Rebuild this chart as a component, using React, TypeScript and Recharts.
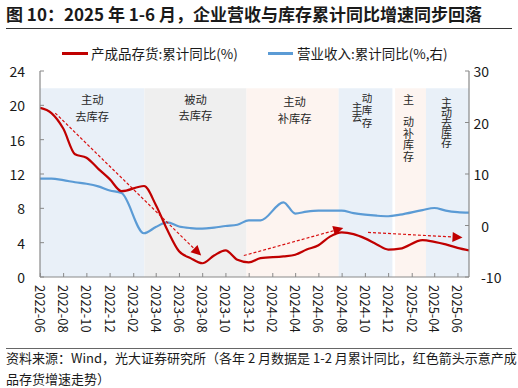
import React from "react";
import {
  LineChart,
  Line,
  XAxis,
  YAxis,
  ReferenceArea,
  ReferenceLine
} from "recharts";

// monthly cumulative YoY, January is folded into February (1-2 months)
const months = [
  "2022-05", "2022-06", "2022-07", "2022-08", "2022-09", "2022-10", "2022-11", "2022-12",
  "2023-02", "2023-03", "2023-04", "2023-05", "2023-06", "2023-07", "2023-08", "2023-09",
  "2023-10", "2023-11", "2023-12",
  "2024-02", "2024-03", "2024-04", "2024-05", "2024-06", "2024-07", "2024-08", "2024-09",
  "2024-10", "2024-11", "2024-12",
  "2025-02", "2025-03", "2025-04", "2025-05", "2025-06"
];

const inventoryYoY = [
  19.7, 19.1, 17.3, 14.3, 13.9, 12.6, 11.4, 10.0,
  10.6, 8.4, 5.5, 3.0, 2.2, 1.6, 2.5, 3.1,
  2.0, 1.7, 2.2,
  2.4, 2.6, 3.2, 3.7, 4.7, 5.2, 5.0, 4.5,
  3.8, 3.2, 3.3,
  4.3, 4.1, 3.8, 3.4, 3.1
];

const revenueYoY = [
  9.1, 9.1, 8.8, 8.4, 8.1, 7.6, 6.8, 6.3,
  -1.5, -0.3, 0.6, -0.2, -0.5, -0.6, -0.4, -0.1,
  0.15, 1.0, 1.0,
  4.5, 2.3, 2.7, 2.9, 2.9, 2.9, 2.4, 2.1,
  1.9, 1.8, 2.1,
  3.0, 3.4, 2.9, 2.6, 2.5
];

const tickMonths = [
  "2022-06", "2022-08", "2022-10", "2022-12", "2023-02", "2023-04", "2023-06",
  "2023-08", "2023-10", "2023-12", "2024-02", "2024-04", "2024-06", "2024-08",
  "2024-10", "2024-12", "2025-02", "2025-04", "2025-06"
];
const leftTicks = [0, 4, 8, 12, 16, 20, 24];
const rightTicks = [-10, 0, 10, 20, 30];

// inventory cycle phases (background bands)
const phaseFrom = ["2022-05-31", "2023-03-01", "2023-11-24", "2024-07-23", "2024-12-18", "2025-03-09"];
const phaseTo = ["2023-03-01", "2023-11-24", "2024-07-23", "2024-12-11", "2025-03-09", "2025-06-30"];
const phaseName = ["主动去库存", "被动去库存", "主动补库存", "主动去库存", "主动补库存", "主动去库存"];

// red trend arrows on the inventory axis
const arrowFrom: [string, number][] = [["2022-07-10", 19.1], ["2023-11-17", 2.5], ["2024-10-08", 5.2]];
const arrowTo: [string, number][] = [["2023-07-28", 2.5], ["2024-08-04", 5.7], ["2025-06-13", 4.6]];

const RED = "#C00000";
const BLUE = "#5B9BD5";
const FONT = '"Noto Sans CJK SC", "Noto Sans", sans-serif';

const bandFill: Record<string, string> = {
  主动去库存: "#E9F0F8",
  被动去库存: "#EFEFEF",
  主动补库存: "#FDF4F0"
};

// how the phase words sit in each band: offsets from band centre / top.
// rows = horizontal lines (dy per line), v = vertical column (dy is top of first glyph)
type Piece = { s: string[]; dx: number; dy: number[]; v?: boolean; ls?: number; size: number };
const phaseLayout: Piece[][] = [
  [{ s: ["主动", "去库存"], dx: 0, dy: [11, 27.5], size: 11.3 }],
  [{ s: ["被动", "去库存"], dx: 0, dy: [10.5, 27], size: 11.3 }],
  [{ s: ["主动", "补库存"], dx: 2, dy: [13, 29.5], size: 11.3 }],
  [
    { s: ["主去"], dx: -8.5, dy: [13.5], v: true, ls: -0.5, size: 10.5 },
    { s: ["动库存"], dx: 1.5, dy: [4.5], v: true, ls: 2, size: 10.5 }
  ],
  [
    { s: ["主"], dx: -2, dy: [6.5], v: true, size: 11 },
    { s: ["动补库存"], dx: -2, dy: [28.5], v: true, ls: 0.5, size: 11 }
  ],
  [{ s: ["主动去库存"], dx: -1, dy: [9], v: true, ls: -1, size: 11 }]
];

const monthEnd = (m: string) => {
  const [y, mo] = m.split("-").map(Number);
  return Date.UTC(y, mo, 0);
};
const monthStart = (m: string) => {
  const [y, mo] = m.split("-").map(Number);
  return Date.UTC(y, mo - 1, 1);
};
const day = (d: string) => Date.parse(d);

const data = months.map((m, i) => ({
  t: monthEnd(m),
  inventory: inventoryYoY[i],
  revenue: revenueYoY[i]
}));
const tickTimes = tickMonths.map(monthStart);
const xDomain = [day("2022-05-31"), day("2025-06-30")];

const MonthTick = ({ x, y, payload }: any) => {
  const i = tickTimes.indexOf(payload.value);
  return (
    <text
      x={x}
      y={y}
      transform={`rotate(90 ${x} ${y})`}
      textAnchor="start"
      dominantBaseline="central"
      fontSize={13}
      fill="#1a1a1a"
      fontFamily={FONT}
    >
      {tickMonths[i]}
    </text>
  );
};

const LeftTick = ({ x, y, payload }: any) => (
  <text x={x} y={y} textAnchor="end" dominantBaseline="central" fontSize={14} fill="#1a1a1a" fontFamily={FONT}>
    {payload.value}
  </text>
);

const RightTick = ({ x, y, payload }: any) => {
  const neg = payload.value < 0;
  return (
    <text
      x={neg ? x + 12 : x + 20}
      y={y}
      textAnchor={neg ? "start" : "end"}
      dominantBaseline="central"
      fontSize={14}
      fill="#1a1a1a"
      fontFamily={FONT}
    >
      {payload.value}
    </text>
  );
};

const DashedArrow = (p: any) => {
  const { x1, y1, x2, y2 } = p;
  const dx = x2 - x1;
  const dy = y2 - y1;
  const len = Math.hypot(dx, dy) || 1;
  const ux = dx / len;
  const uy = dy / len;
  const head = 10;
  const half = 5;
  const bx = x2 - ux * head;
  const by = y2 - uy * head;
  return (
    <g>
      <line x1={x1} y1={y1} x2={bx} y2={by} stroke="#D81010" strokeWidth={1.2} strokeDasharray="3 2" />
      <polygon
        points={`${x2},${y2} ${bx - uy * half},${by + ux * half} ${bx + uy * half},${by - ux * half}`}
        fill={RED}
      />
    </g>
  );
};

const PhaseText = ({ vb, idx }: { vb: any; idx: number }) => {
  const cx = vb.x + vb.width / 2;
  return (
    <g>
      {phaseLayout[idx].map((c, k) =>
        c.v ? (
          <text
            key={k}
            x={cx + c.dx}
            y={vb.y + c.dy[0]}
            textAnchor="start"
            fontSize={c.size}
            fill="#262626"
            fontFamily={FONT}
            style={{ writingMode: "vertical-rl", letterSpacing: c.ls || 0 }}
          >
            {c.s[0]}
          </text>
        ) : (
          <text
            key={k}
            textAnchor="middle"
            dominantBaseline="central"
            fontSize={c.size}
            fill="#262626"
            fontFamily={FONT}
          >
            {c.s.map((line, j) => (
              <tspan key={j} x={cx + c.dx} y={vb.y + c.dy[j]}>
                {line}
              </tspan>
            ))}
          </text>
        )
      )}
    </g>
  );
};

export default function App() {
  return (
    <div
      style={{
        position: "absolute",
        left: 0,
        top: 0,
        width: 518,
        height: 388,
        background: "#fff",
        fontFamily: FONT,
        color: "#1a1a1a"
      }}
    >
      <div style={{ position: "absolute", left: 0, top: 0 }}>
        <LineChart width={518} height={346} data={data} margin={{ top: 71, right: 0, bottom: 0, left: 0 }}>
          {phaseName.map((name, i) => (
            <ReferenceArea
              key={i}
              yAxisId="left"
              x1={day(phaseFrom[i])}
              x2={day(phaseTo[i])}
              y1={0}
              y2={22}
              fill={bandFill[name]}
              fillOpacity={1}
              stroke="none"
              ifOverflow="extendDomain"
              label={(lp: any) => <PhaseText vb={lp.viewBox || lp} idx={i} />}
            />
          ))}
          <XAxis
            dataKey="t"
            type="number"
            domain={xDomain}
            ticks={tickTimes}
            allowDataOverflow
            height={69}
            interval={0}
            tickSize={-4}
            tickMargin={12}
            tick={<MonthTick />}
            tickLine={{ stroke: "#898989" }}
            axisLine={{ stroke: "#898989", strokeWidth: 1.2 }}
          />
          <YAxis
            yAxisId="left"
            domain={[0, 24]}
            ticks={leftTicks}
            width={40}
            tickSize={-4}
            tickMargin={19}
            tick={<LeftTick />}
            tickLine={{ stroke: "#898989" }}
            axisLine={{ stroke: "#898989", strokeWidth: 1.2 }}
          />
          <YAxis
            yAxisId="right"
            orientation="right"
            domain={[-10, 30]}
            ticks={rightTicks}
            width={49}
            tickSize={-4}
            tickMargin={4}
            tick={<RightTick />}
            tickLine={{ stroke: "#898989" }}
            axisLine={{ stroke: "#898989", strokeWidth: 1.2 }}
          />
          <Line
            yAxisId="right"
            dataKey="revenue"
            type="monotone"
            stroke={BLUE}
            strokeWidth={2.2}
            dot={false}
            isAnimationActive={false}
          />
          <Line
            yAxisId="left"
            dataKey="inventory"
            type="monotone"
            stroke={RED}
            strokeWidth={2.2}
            dot={false}
            isAnimationActive={false}
          />
          {arrowFrom.map((a, i) => (
            <ReferenceLine
              key={i}
              yAxisId="left"
              segment={[
                { x: day(a[0]), y: a[1] },
                { x: day(arrowTo[i][0]), y: arrowTo[i][1] }
              ]}
              shape={(p: any) => <DashedArrow {...p} />}
            />
          ))}
        </LineChart>
      </div>

      <div
        style={{
          position: "absolute",
          left: 6,
          top: 2,
          fontSize: 17,
          fontWeight: 700,
          lineHeight: "24px",
          whiteSpace: "nowrap"
        }}
      >
        图 10：2025 年 1-6 月，企业营收与库存累计同比增速同步回落
      </div>
      <div style={{ position: "absolute", left: 6, top: 28, width: 506, height: 1, background: "#333" }} />

      <div style={{ position: "absolute", left: 62, top: 52, width: 26, height: 2.5, background: RED }} />
      <div style={{ position: "absolute", left: 91, top: 44, fontSize: 13.5, lineHeight: "18px", whiteSpace: "nowrap" }}>
        产成品存货:累计同比(%)
      </div>
      <div style={{ position: "absolute", left: 268, top: 52, width: 25, height: 2.5, background: BLUE }} />
      <div style={{ position: "absolute", left: 297, top: 44, fontSize: 13.5, lineHeight: "18px", whiteSpace: "nowrap" }}>
        营业收入:累计同比(%,右)
      </div>

      <div style={{ position: "absolute", left: 6, top: 348, width: 506, height: 1, background: "#666" }} />
      <div style={{ position: "absolute", left: 6, top: 347, fontSize: 13, lineHeight: "21px", whiteSpace: "nowrap" }}>
        <div>资料来源：Wind，光大证券研究所（各年 2 月数据是 1-2 月累计同比，红色箭头示意产成</div>
        <div>品存货增速走势）</div>
      </div>
    </div>
  );
}
